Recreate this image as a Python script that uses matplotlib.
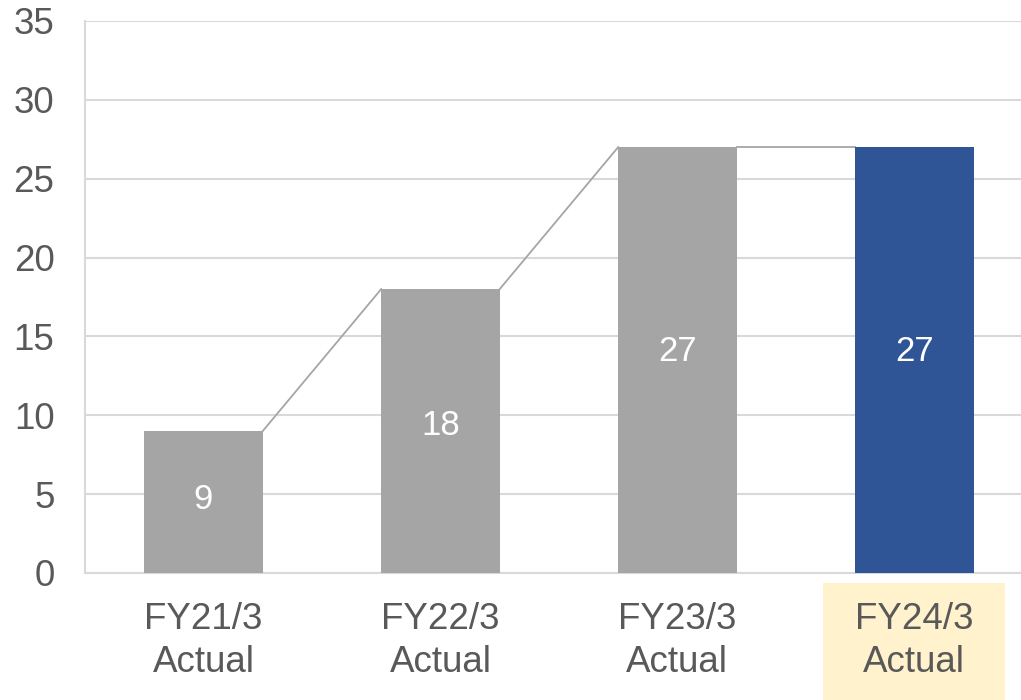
import matplotlib
matplotlib.use("Agg")
import matplotlib.pyplot as plt
import matplotlib.transforms as mtransforms
from matplotlib.patches import Rectangle

# ── data ──────────────────────────────────
categories = ["FY21/3\nActual", "FY22/3\nActual", "FY23/3\nActual", "FY24/3\nActual"]
values     = [9, 18, 27, 27]
highlight  = 3                      # index of the current-year bar
yticks     = [0, 5, 10, 15, 20, 25, 30, 35]

COLOR_PAST  = "#A5A5A5"
COLOR_NOW   = "#2F5597"
COLOR_GRID  = "#D9D9D9"
COLOR_TEXT  = "#595959"
COLOR_HILITE = "#FFF2CC"

plt.rcParams["font.family"] = ["Liberation Sans", "DejaVu Sans"]

fig = plt.figure(figsize=(10.21, 7.0), dpi=100)
ax = fig.add_axes([85 / 1021, 127 / 700, 1 - 85 / 1021, 552 / 700])

x = list(range(len(values)))
width = 0.5
colors = [COLOR_NOW if i == highlight else COLOR_PAST for i in x]
ax.bar(x, values, width=width, color=colors, zorder=3)

# connectors from the top of each bar to the next one
for i in range(len(values) - 1):
    ax.plot([x[i] + width / 2, x[i + 1] - width / 2], [values[i], values[i + 1]],
            color=COLOR_PAST, linewidth=1.3, zorder=2)

# value labels inside the bars
for xi, v in zip(x, values):
    ax.text(xi, v * 0.52, str(v), ha="center", va="center",
            color="white", fontsize=25, zorder=4)

# pale background behind the current-year category label
trans = mtransforms.blended_transform_factory(ax.transData, fig.transFigure)
ax.add_patch(Rectangle((highlight - 0.384, 0), 0.768, (700 - 583) / 700,
                       transform=trans, facecolor=COLOR_HILITE,
                       edgecolor="none", clip_on=False, zorder=0))

ax.set_xlim(-0.5, 3.45)
ax.set_ylim(0, 35)
ax.set_yticks(yticks)
ax.set_xticks(x)
ax.set_xticklabels(categories, linespacing=1.3)

ax.grid(axis="y", color=COLOR_GRID, linewidth=1.5, zorder=1)
ax.set_axisbelow(True)
for name, spine in ax.spines.items():
    if name in ("left", "bottom"):
        spine.set_edgecolor(COLOR_GRID)
        spine.set_linewidth(1.5)
    else:
        spine.set_visible(False)

ax.tick_params(axis="y", length=0, pad=22, labelsize=26.5, colors=COLOR_TEXT)
ax.tick_params(axis="x", length=0, pad=21, labelsize=26.5, colors=COLOR_TEXT)

fig.savefig("out.png", dpi=100)
